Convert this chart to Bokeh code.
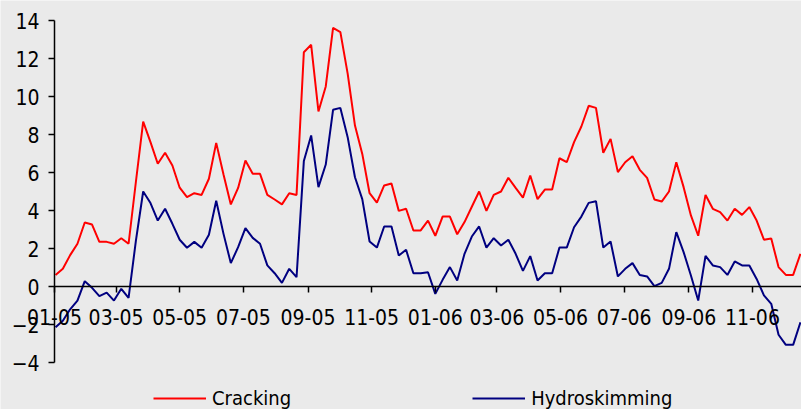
import pandas as pd
from bokeh.plotting import figure
from bokeh.models import (Range1d, FixedTicker, Legend, LegendItem)
from bokeh.embed import file_html
from bokeh.resources import INLINE

# ---- data -------------------------------------------------------------
cracking = [0.61, 0.93, 1.65, 2.25, 3.37, 3.26, 2.35, 2.35, 2.25, 2.54,
            2.25, 5.5, 8.68, 7.6, 6.46, 7.04, 6.37, 5.2, 4.7, 4.91,
            4.82, 5.67, 7.56, 5.9, 4.32, 5.19, 6.63, 5.93, 5.93, 4.82,
            4.58, 4.32, 4.91, 4.82, 12.33, 12.72, 9.21, 10.53, 13.61, 13.39,
            11.2, 8.47, 6.98, 4.91, 4.42, 5.32, 5.42, 3.98, 4.09, 2.95,
            2.95, 3.47, 2.67, 3.68, 3.68, 2.75, 3.39, 4.2, 5.0, 3.98,
            4.82, 5.0, 5.72, 5.19, 4.68, 5.84, 4.6, 5.1, 5.1, 6.75,
            6.54, 7.6, 8.42, 9.51, 9.4, 7.04, 7.77, 6.02, 6.54, 6.86,
            6.14, 5.72, 4.58, 4.47, 5.0, 6.54, 5.23, 3.74, 2.67, 4.82,
            4.09, 3.91, 3.47, 4.09, 3.77, 4.18, 3.47, 2.46, 2.53, 1.02,
            0.61, 0.61, 1.72]
hydroskimming = [-2.14, -1.8, -1.2, -0.74, 0.28, -0.07, -0.51, -0.32, -0.74, -0.12,
                 -0.6, 2.4, 5.0, 4.39, 3.47, 4.09, 3.3, 2.46, 2.04, 2.35,
                 2.04, 2.72, 4.51, 2.77, 1.23, 2.07, 3.07, 2.56, 2.25, 1.11,
                 0.7, 0.19, 0.93, 0.49, 6.6, 7.95, 5.23, 6.42, 9.3, 9.4,
                 7.86, 5.75, 4.6, 2.37, 2.05, 3.16, 3.16, 1.63, 1.93, 0.7,
                 0.7, 0.75, -0.39, 0.35, 1.02, 0.32, 1.72, 2.63, 3.16, 2.05,
                 2.54, 2.16, 2.46, 1.72, 0.82, 1.6, 0.32, 0.7, 0.7, 2.05,
                 2.05, 3.12, 3.68, 4.4, 4.49, 2.05, 2.37, 0.53, 0.93, 1.23,
                 0.61, 0.53, 0.02, 0.19, 0.93, 2.86, 1.81, 0.58, -0.74, 1.61,
                 1.11, 1.02, 0.61, 1.32, 1.11, 1.11, 0.4, -0.47, -0.91, -2.54,
                 -3.07, -3.07, -1.88]
first_week = "2005-01-02"
dates = pd.date_range(first_week, periods=len(cracking), freq="7D")
tick_labels = ["01-05", "03-05", "05-05", "07-05", "09-05", "11-05",
               "01-06", "03-06", "05-06", "07-06", "09-06", "11-06"]
y_ticks = [-4, -2, 0, 2, 4, 6, 8, 10, 12, 14]
series_names = ["Cracking", "Hydroskimming"]
series_colors = ["#FF0000", "#000080"]

# ---- layout helpers (pixels) -------------------------------------------
FONT = "DejaVu Sans Condensed, DejaVu Sans"
BG = "#EAEAEA"
W, H = 801, 409
PX_PER_DAY = 1.0433
PX_PER_UNIT = 19.0
AXIS_X = 54      # where the value axis sits
AXIS_TOP = 20    # where the top of the value axis sits

x_origin = pd.to_datetime(tick_labels[0], format="%m-%y")
x_start = x_origin - pd.Timedelta(days=AXIS_X / PX_PER_DAY)
x_end = x_origin + pd.Timedelta(days=(W - AXIS_X) / PX_PER_DAY)
y_min, y_max = y_ticks[0], y_ticks[-1]
y_top = y_max + AXIS_TOP / PX_PER_UNIT
y_bot = y_top - H / PX_PER_UNIT

p = figure(width=W, height=H, x_axis_type="datetime",
           x_range=Range1d(x_start, x_end),
           y_range=Range1d(y_bot, y_top),
           output_backend="svg", toolbar_location=None,
           min_border=0)
p.background_fill_color = BG
p.border_fill_color = BG
p.outline_line_color = None
p.grid.visible = False

tick_ms = [pd.to_datetime(t, format="%m-%y").value // 10**6 for t in tick_labels]
xa = p.xaxis[0]
xa.ticker = FixedTicker(ticks=tick_ms)
xa.major_label_overrides = {t: lab for t, lab in zip(tick_ms, tick_labels)}
xa.fixed_location = 0
xa.bounds = (x_origin, x_end)
xa.axis_line_color = "black"
xa.axis_line_width = 1.5
xa.major_tick_line_width = 1.5
xa.major_tick_in = 0
xa.major_tick_out = 6
xa.minor_tick_line_color = None
xa.major_label_text_font = FONT
xa.major_label_text_font_size = "21px"
xa.major_label_text_color = "black"
xa.major_label_standoff = 16

ya = p.yaxis[0]
ya.ticker = FixedTicker(ticks=y_ticks)
ya.fixed_location = x_origin.value // 10**6
ya.bounds = (y_min, y_max)
ya.axis_line_color = "black"
ya.axis_line_width = 1.5
ya.major_tick_line_width = 1.5
ya.major_tick_in = 0
ya.major_tick_out = 6
ya.minor_tick_line_color = None
ya.major_label_text_font = FONT
ya.major_label_text_font_size = "21px"
ya.major_label_text_color = "black"
ya.major_label_standoff = 9

r1 = p.line(dates, cracking, line_color=series_colors[0], line_width=2)
r2 = p.line(dates, hydroskimming, line_color=series_colors[1], line_width=2)

legend = Legend(items=[LegendItem(label=series_names[0], renderers=[r1]),
                       LegendItem(label=series_names[1], renderers=[r2])],
                orientation="horizontal", location=(153, -1),
                background_fill_alpha=0, border_line_color=None,
                padding=0, margin=0, spacing=181,
                glyph_width=53, glyph_height=20, label_height=20,
                label_standoff=6, label_text_font=FONT,
                label_text_font_size="20px", label_text_color="black")
p.add_layout(legend, "center")

html = file_html(p, INLINE)
html = html.replace("<body>", '<body style="background:%s;overflow:hidden">' % BG, 1)
open("out.html", "w").write(html)
